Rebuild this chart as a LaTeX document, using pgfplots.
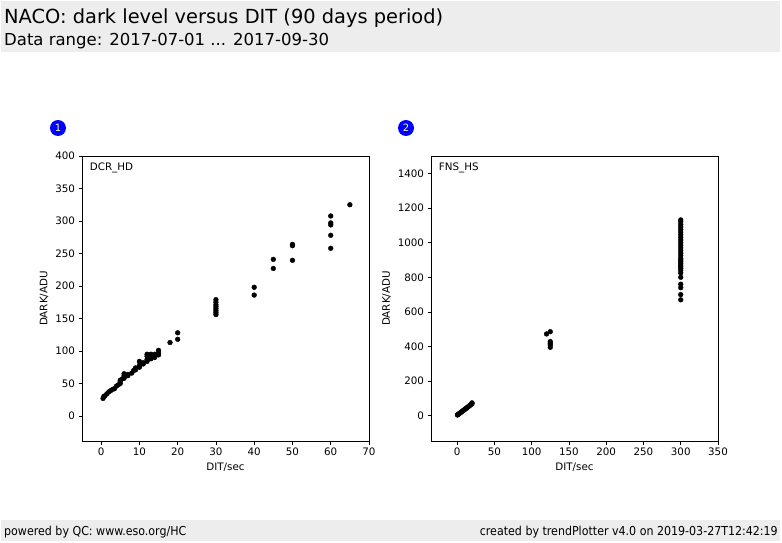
\documentclass[border=0pt]{standalone}
\usepackage{pgfplots}
\pgfplotsset{compat=1.18}
\usepackage{fontspec}
\setmainfont{DejaVu Sans}
\newfontfamily\condfont{DejaVu Sans Condensed}
\definecolor{hdrgray}{HTML}{EDEDED}
\definecolor{numyellow}{HTML}{FFFF99}

\pgfplotsset{
  qcaxis/.style={
    width=287pt, height=285pt, scale only axis,
    axis line style={black, line width=0.8pt},
    tick align=outside, tick pos=left,
    major tick length=3.5pt,
    tick style={black, line width=0.8pt},
    ticklabel style={font=\fontsize{10.3}{12}\selectfont},
    label style={font=\fontsize{10.3}{12}\selectfont},
    /pgf/number format/assume math mode=true,
    /pgf/number format/1000 sep={},
    xlabel={DIT/sec}, ylabel={DARK/ADU},
  },
  qcdots/.style={only marks, mark=*, mark size=2.4pt, color=black, mark options={fill=black, draw=black}},
}

\begin{document}
\begin{tikzpicture}
\fill[white] (0pt,0pt) rectangle (782pt,542pt);
\fill[hdrgray] (1pt,490pt) rectangle (780pt,541pt);
\fill[hdrgray] (1pt,1pt) rectangle (780pt,22pt);
\node[anchor=base west, inner sep=0pt, font=\fontsize{19.4}{22}\selectfont] at (4pt,518pt) {NACO: dark level versus DIT (90 days period)};
\node[anchor=base west, inner sep=0pt, font=\fontsize{16.5}{19}\selectfont] at (4pt,496pt) {Data range: 2017-07-01 ... 2017-09-30};
\node[anchor=base west, inner sep=0pt, font=\condfont\fontsize{12.3}{14}\selectfont] at (4pt,7pt) {powered by QC: www.eso.org/HC};
\node[anchor=base east, inner sep=0pt, font=\condfont\fontsize{12.3}{14}\selectfont] at (778pt,7pt) {created by trendPlotter v4.0 on 2019-03-27T12:42:19};

\fill[blue] (58pt,414pt) circle (8pt);
\node[numyellow, font=\fontsize{10}{12}\selectfont] at (58pt,414pt) {1};
\fill[blue] (406pt,414pt) circle (8pt);
\node[numyellow, font=\fontsize{10}{12}\selectfont] at (406pt,414pt) {2};

\begin{axis}[qcaxis, at={(82pt,101pt)}, anchor=south west,
  xmin=-5, xmax=70, ymin=-38.5, ymax=400,
  xtick={0,10,...,70}, ytick={0,50,...,400}]
\addplot[qcdots] coordinates {
(0.5,27)(0.7,30)(1,31)(1.5,34)(2,37)(2.5,39)(3,41)(3.5,42)(4,46)(4.5,48)
(5,50)(5,53)(5,55)(5.5,57)(6,58)(6,62)(6,65)(7,62)(7,64)(8,66)(8.5,70)
(9,71)(9,74)(10,75)(10,78)(10,84)(11,80)(11,82)(12,84)(12,87)(12,92)(12,95)
(13,88)(13,92)(13,95)(14,90)(14,95)(15,94)(15,97)(15,101)
(18,113)(20,118)(20,128)
(30,156)(30,159)(30,162)(30,165)(30,168)(30,171)(30,175)(30,179)
(40,186)(40,198)(45,227)(45,241)(50,239.5)(50,262)(50,264)
(60,258)(60,278)(60,294)(60,297)(60,307.7)(65,325)
};
\node[anchor=north west, inner sep=0pt, font=\fontsize{10.3}{12}\selectfont] at (rel axis cs:0.027,0.975) {DCR\_HD};
\end{axis}

\begin{axis}[qcaxis, at={(431pt,101pt)}, anchor=south west,
  xmin=-35, xmax=350, ymin=-145, ymax=1500,
  xtick={0,50,...,350}, ytick={0,200,...,1400}]
\addplot[qcdots] coordinates {
(0.5,5)(1,8)(2,10)(3,14)(4,17)(5,20)(6,23)(7,27)(8,30)(9,33)(10,36)
(11,40)(12,43)(13,46)(14,50)(15,53)(16,57)(17,60)(18,64)(19,67)(20,70)(20,75)
(120,473)(125,486)(125,429)(125,419)(125,410)(125,396)
(300,1131)(300,1120)(300,1105)(300,1090)(300,1075)(300,1060)(300,1045)
(300,1030)(300,1015)(300,1000)(300,985)(300,970)(300,955)(300,940)
(300,925)(300,910)(300,900)(300,890)(300,880)(300,870)(300,860)(300,850)
(300,840)(300,825)(300,800)(300,760)(300,740)(300,700)(300,670)
};
\node[anchor=north west, inner sep=0pt, font=\fontsize{10.3}{12}\selectfont] at (rel axis cs:0.027,0.975) {FNS\_HS};
\end{axis}
\end{tikzpicture}
\end{document}
